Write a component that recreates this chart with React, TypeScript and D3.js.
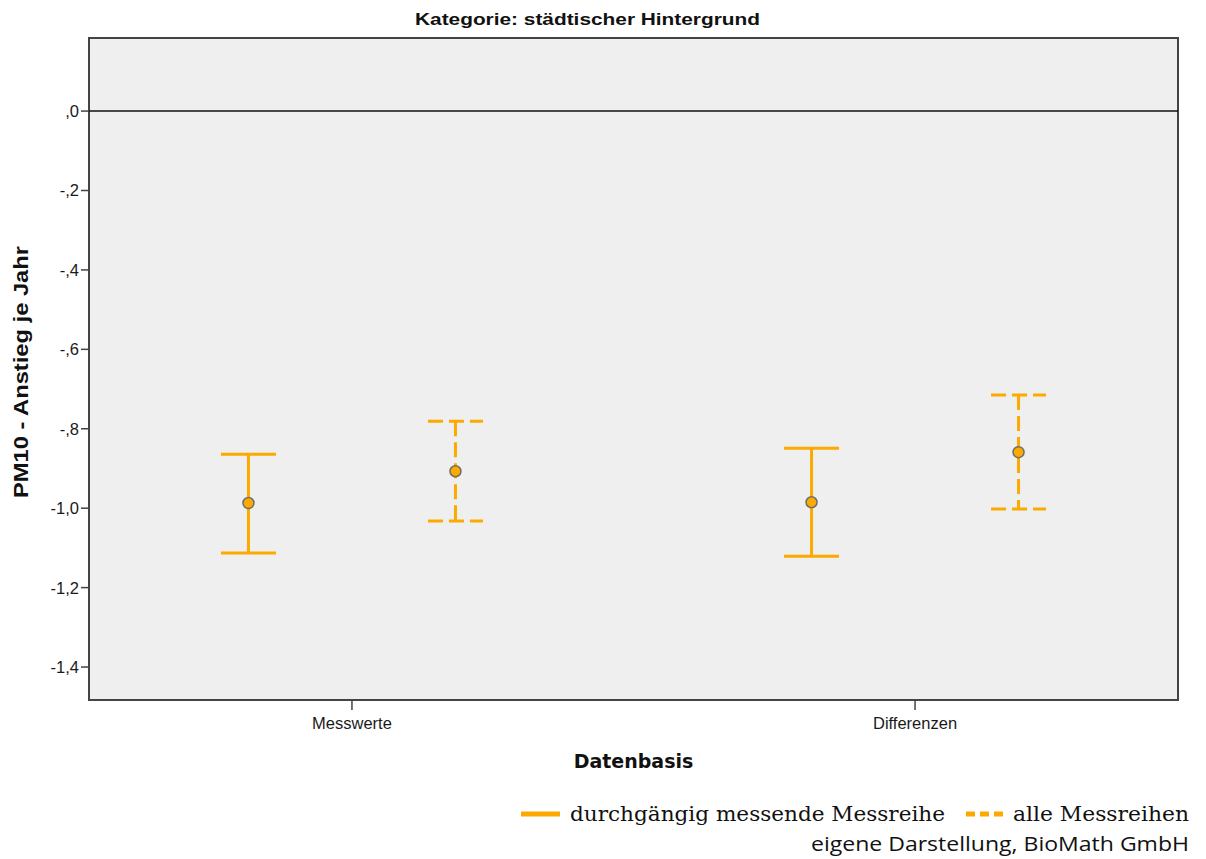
import React from "react";
import * as d3 from "d3";

const categories = ["Messwerte", "Differenzen"];
const seriesNames = ["durchgängig messende Messreihe", "alle Messreihen"];
// mean, lower, upper per category for each series
const solidMean = [-0.987, -0.985];
const solidLow = [-1.113, -1.121];
const solidHigh = [-0.864, -0.849];
const dashedMean = [-0.907, -0.859];
const dashedLow = [-1.032, -1.002];
const dashedHigh = [-0.781, -0.715];
const yTickValues = [0, -0.2, -0.4, -0.6, -0.8, -1.0, -1.2, -1.4];
const yTickLabels = [",0", "-,2", "-,4", "-,6", "-,8", "-1,0", "-1,2", "-1,4"];

const W = 1206;
const H = 859;
const plot = { left: 89, right: 1178, top: 38, bottom: 700 };
const ORANGE = "#fca900";

export default function App() {
  const y = d3.scaleLinear().domain([-1.483, 0.184]).range([plot.bottom, plot.top]);
  const x = d3.scalePoint<string>().domain(categories).range([plot.left, plot.right]).padding(0.467);
  const off = d3.scalePoint<string>().domain(seriesNames).range([-103.5, 103.5]);

  const series = [
    { name: seriesNames[0], mean: solidMean, low: solidLow, high: solidHigh, dash: undefined as string | undefined },
    { name: seriesNames[1], mean: dashedMean, low: dashedLow, high: dashedHigh, dash: "15,6" },
  ];
  const capHalf = 27.5;

  return (
    <svg width={W} height={H} style={{ position: "absolute", left: 0, top: 0, background: "#fff" }}>
      <text x={587.5} y={25} textAnchor="middle" fontFamily="'Liberation Sans', Arial, sans-serif" fontWeight="bold" fontSize={17} textLength={345} lengthAdjust="spacingAndGlyphs" fill="#111">
        Kategorie: städtischer Hintergrund
      </text>
      <rect x={plot.left} y={plot.top} width={plot.right - plot.left} height={plot.bottom - plot.top} fill="#efefef" stroke="#444" strokeWidth={2} />
      <line x1={plot.left} x2={plot.right} y1={y(0)} y2={y(0)} stroke="#111" strokeWidth={1.5} />
      {yTickValues.map((v, i) => (
        <g key={i}>
          <line x1={plot.left - 8} x2={plot.left} y1={y(v)} y2={y(v)} stroke="#444" strokeWidth={1.5} />
          <text x={plot.left - 10} y={y(v) + 6} textAnchor="end" fontFamily="'Liberation Sans', Arial, sans-serif" fontSize={16.5} fill="#1a1a1a">
            {yTickLabels[i]}
          </text>
        </g>
      ))}
      {categories.map((c) => (
        <g key={c}>
          <line x1={x(c)!} x2={x(c)!} y1={plot.bottom} y2={plot.bottom + 10} stroke="#444" strokeWidth={1.5} />
          <text x={x(c)!} y={729} textAnchor="middle" fontFamily="'Liberation Sans', Arial, sans-serif" fontSize={16.5} fill="#1a1a1a">
            {c}
          </text>
        </g>
      ))}
      {series.map((s) =>
        categories.map((c, i) => {
          const cx = x(c)! + off(s.name)!;
          return (
            <g key={s.name + c}>
              <line x1={cx} x2={cx} y1={y(s.high[i])} y2={y(s.low[i])} stroke={ORANGE} strokeWidth={3} strokeDasharray={s.dash} />
              <line x1={cx - capHalf} x2={cx + capHalf} y1={y(s.high[i])} y2={y(s.high[i])} stroke={ORANGE} strokeWidth={3} strokeDasharray={s.dash} />
              <line x1={cx - capHalf} x2={cx + capHalf} y1={y(s.low[i])} y2={y(s.low[i])} stroke={ORANGE} strokeWidth={3} strokeDasharray={s.dash} />
              <circle cx={cx} cy={y(s.mean[i])} r={5.5} fill={ORANGE} stroke="#6e6e6e" strokeWidth={1.5} />
            </g>
          );
        })
      )}
      <text transform={`translate(28,${(plot.top + plot.bottom) / 2 + 3}) rotate(-90)`} textAnchor="middle" fontFamily="'Liberation Sans', Arial, sans-serif" fontWeight="bold" fontSize={21} textLength={252} lengthAdjust="spacingAndGlyphs" fill="#111">
        PM10 - Anstieg je Jahr
      </text>
      <text x={(plot.left + plot.right) / 2} y={768} textAnchor="middle" fontFamily="'DejaVu Sans', Verdana, sans-serif" fontWeight="bold" fontSize={19} fill="#111">
        Datenbasis
      </text>
      {/* legend */}
      <line x1={521} x2={560} y1={814} y2={814} stroke={ORANGE} strokeWidth={5} />
      <text x={570} y={821} fontFamily="'DejaVu Serif', Cambria, serif" fontSize={21} textLength={375} lengthAdjust="spacingAndGlyphs" fill="#111">
        {seriesNames[0]}
      </text>
      <line x1={966} x2={1006} y1={814} y2={814} stroke={ORANGE} strokeWidth={5} strokeDasharray="9,5" />
      <text x={1013} y={821} fontFamily="'DejaVu Serif', Cambria, serif" fontSize={21} textLength={176} lengthAdjust="spacingAndGlyphs" fill="#111">
        {seriesNames[1]}
      </text>
      <text x={1189} y={851} textAnchor="end" fontFamily="'Open Sans', Calibri, sans-serif" fontSize={20} textLength={378} lengthAdjust="spacingAndGlyphs" fill="#111">
        eigene Darstellung, BioMath GmbH
      </text>
    </svg>
  );
}
